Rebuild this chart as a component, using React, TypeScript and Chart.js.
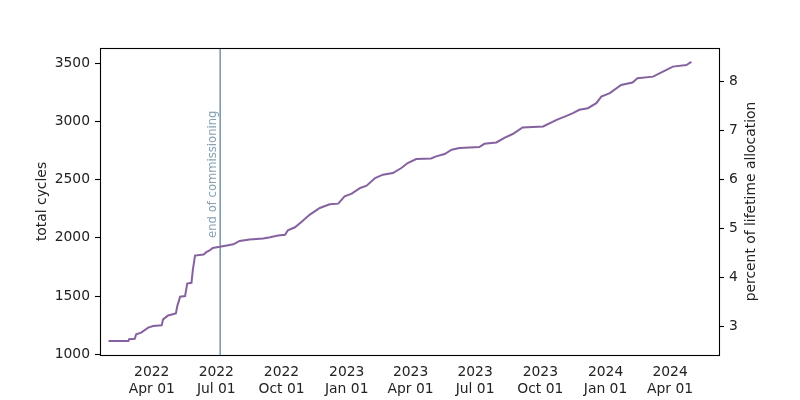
import React, { useEffect, useRef } from "react";
import { Chart, registerables } from "chart.js";

Chart.register(...registerables);

// ---- data ----
const DATES: string[] = [
  "2022-01-30", "2022-02-27", "2022-02-28", "2022-03-08", "2022-03-10", "2022-03-17",
  "2022-03-27", "2022-04-03", "2022-04-15", "2022-04-17", "2022-04-24", "2022-05-05",
  "2022-05-07", "2022-05-11", "2022-05-18", "2022-05-21", "2022-05-27", "2022-05-29",
  "2022-06-01", "2022-06-13", "2022-06-17", "2022-06-22", "2022-06-26", "2022-07-06",
  "2022-07-16", "2022-07-25", "2022-08-03", "2022-08-17", "2022-09-05", "2022-09-15",
  "2022-09-26", "2022-10-06", "2022-10-10", "2022-10-20", "2022-10-29", "2022-11-10",
  "2022-11-24", "2022-12-08", "2022-12-20", "2022-12-29", "2023-01-08", "2023-01-20",
  "2023-01-29", "2023-02-10", "2023-02-21", "2023-03-07", "2023-03-19", "2023-03-28",
  "2023-04-09", "2023-04-30", "2023-05-07", "2023-05-19", "2023-05-29", "2023-06-09",
  "2023-07-07", "2023-07-14", "2023-07-31", "2023-08-12", "2023-08-23", "2023-09-06",
  "2023-10-05", "2023-10-24", "2023-11-07", "2023-11-16", "2023-11-25", "2023-12-07",
  "2023-12-19", "2023-12-26", "2024-01-07", "2024-01-23", "2024-02-08", "2024-02-15",
  "2024-03-08", "2024-03-22", "2024-04-05", "2024-04-24", "2024-05-01",
];
const CYCLES: number[] = [
  1114, 1114, 1129, 1133, 1171, 1186,
  1229, 1243, 1249, 1300, 1334, 1351,
  1414, 1495, 1500, 1608, 1614, 1728,
  1848, 1857, 1877, 1894, 1914, 1923,
  1934, 1945, 1974, 1986, 1994, 2005,
  2020, 2026, 2065, 2091, 2137, 2200,
  2257, 2288, 2294, 2357, 2380, 2429,
  2448, 2514, 2543, 2557, 2600, 2643,
  2677, 2682, 2700, 2720, 2757, 2772,
  2780, 2808, 2820, 2862, 2892, 2948,
  2957, 3014, 3048, 3072, 3100, 3114,
  3157, 3214, 3243, 3314, 3334, 3371,
  3385, 3428, 3471, 3485, 3511,
];
const X_TICK_DATES: string[] = [
  "2022-04-01", "2022-07-01", "2022-10-01", "2023-01-01", "2023-04-01",
  "2023-07-01", "2023-10-01", "2024-01-01", "2024-04-01",
];
const LEFT_TICKS: number[] = [1000, 1500, 2000, 2500, 3000, 3500];
const RIGHT_TICKS: number[] = [3, 4, 5, 6, 7, 8];
const X_RANGE: string[] = ["2022-01-18", "2024-06-09"];
const LEFT_RANGE: number[] = [994, 3631];
const RIGHT_RANGE: number[] = [2.407, 8.689];
const COMMISSIONING_END = "2022-07-06T12:00:00Z";
const COMMISSIONING_LABEL = "end of commissioning";
const ANNOTATION_VALUE = 2000;
const MONTHS = ["Jan", "Feb", "Mar", "Apr", "May", "Jun", "Jul", "Aug", "Sep", "Oct", "Nov", "Dec"];

const toMs = (s: string) => Date.parse(s.length === 10 ? s + "T00:00:00Z" : s);

const FONT = "'DejaVu Sans', sans-serif";
const FS = 13.89;
const TEXT = "#222222";

export default function App() {
  const ref = useRef<HTMLCanvasElement | null>(null);

  useEffect(() => {
    document.body.style.margin = "0";
    const canvas = ref.current;
    if (!canvas) return;

    const overlay = {
      id: "overlay",
      beforeDatasetsDraw(chart: any) {
        const { ctx, chartArea, scales } = chart;
        const x = scales.x.getPixelForValue(toMs(COMMISSIONING_END));
        ctx.save();
        ctx.strokeStyle = "#7c9bad";
        ctx.lineWidth = 1.6;
        ctx.beginPath();
        ctx.moveTo(x, chartArea.top);
        ctx.lineTo(x, chartArea.bottom);
        ctx.stroke();
        const yA = scales.y.getPixelForValue(ANNOTATION_VALUE);
        ctx.translate(x - 1.5, yA);
        ctx.rotate(-Math.PI / 2);
        ctx.fillStyle = "#86a2b4";
        ctx.font = `11.6px ${FONT}`;
        ctx.textAlign = "left";
        ctx.textBaseline = "bottom";
        ctx.fillText(COMMISSIONING_LABEL, 0, 0);
        ctx.restore();
      },
      afterDraw(chart: any) {
        const { ctx, chartArea } = chart;
        ctx.save();
        ctx.strokeStyle = "#000";
        ctx.lineWidth = 1.1;
        ctx.strokeRect(
          Math.round(chartArea.left) + 0.5,
          Math.round(chartArea.top) + 0.5,
          Math.round(chartArea.right - chartArea.left),
          Math.round(chartArea.bottom - chartArea.top)
        );
        ctx.translate(751, (chartArea.top + chartArea.bottom) / 2);
        ctx.rotate(-Math.PI / 2);
        ctx.fillStyle = TEXT;
        ctx.font = `${FS}px ${FONT}`;
        ctx.textAlign = "center";
        ctx.textBaseline = "middle";
        ctx.fillText("percent of lifetime allocation", 0, 0);
        ctx.restore();
      },
    };

    const chart = new Chart(canvas, {
      type: "line",
      data: {
        datasets: [
          {
            data: DATES.map((d, i) => ({ x: toMs(d), y: CYCLES[i] })),
            borderColor: "#85629f",
            borderWidth: 2,
            pointRadius: 0,
            tension: 0,
            fill: false,
            yAxisID: "y",
          },
        ],
      },
      options: {
        responsive: false,
        animation: false,
        parsing: false as any,
        layout: { padding: { top: 48, left: 0, right: 0, bottom: 0 } },
        plugins: { legend: { display: false }, tooltip: { enabled: false } },
        scales: {
          x: {
            type: "linear",
            min: toMs(X_RANGE[0]),
            max: toMs(X_RANGE[1]),
            grid: { display: false, drawTicks: false },
            border: { display: false },
            afterFit: (s: any) => { s.height = 45; },
            afterBuildTicks: (s: any) => { s.ticks = X_TICK_DATES.map((d) => ({ value: toMs(d) })); },
            ticks: {
              padding: 9,
              maxRotation: 0,
              autoSkip: false,
              color: TEXT,
              font: { family: FONT, size: FS },
              callback: (v: any) => {
                const d = new Date(Number(v));
                return [String(d.getUTCFullYear()), `${MONTHS[d.getUTCMonth()]} 01`];
              },
            },
          },
          y: {
            type: "linear",
            position: "left",
            min: LEFT_RANGE[0],
            max: LEFT_RANGE[1],
            grid: { display: true, drawOnChartArea: false, drawTicks: true, tickLength: 5, tickColor: "#000", tickWidth: 1.1 },
            border: { display: false },
            afterFit: (s: any) => { s.width = 100; },
            afterBuildTicks: (s: any) => { s.ticks = LEFT_TICKS.map((v) => ({ value: v })); },
            ticks: { padding: 5, color: TEXT, font: { family: FONT, size: FS }, callback: (v: any) => String(v) },
            title: {
              display: true,
              text: "total cycles",
              color: TEXT,
              font: { family: FONT, size: FS },
              padding: { top: 33.7, bottom: 0 },
            },
          },
          y2: {
            type: "linear",
            position: "right",
            min: RIGHT_RANGE[0],
            max: RIGHT_RANGE[1],
            grid: { display: true, drawOnChartArea: false, drawTicks: true, tickLength: 5, tickColor: "#000", tickWidth: 1.1 },
            border: { display: false },
            afterFit: (s: any) => { s.width = 81; },
            afterBuildTicks: (s: any) => { s.ticks = RIGHT_TICKS.map((v) => ({ value: v })); },
            ticks: { padding: 5, color: TEXT, font: { family: FONT, size: FS }, callback: (v: any) => String(v) },
          },
        },
      },
      plugins: [overlay],
    } as any);

    return () => chart.destroy();
  }, []);

  return (
    <div style={{ width: 800, height: 400 }}>
      <canvas ref={ref} width={800} height={400} style={{ display: "block" }} />
    </div>
  );
}
